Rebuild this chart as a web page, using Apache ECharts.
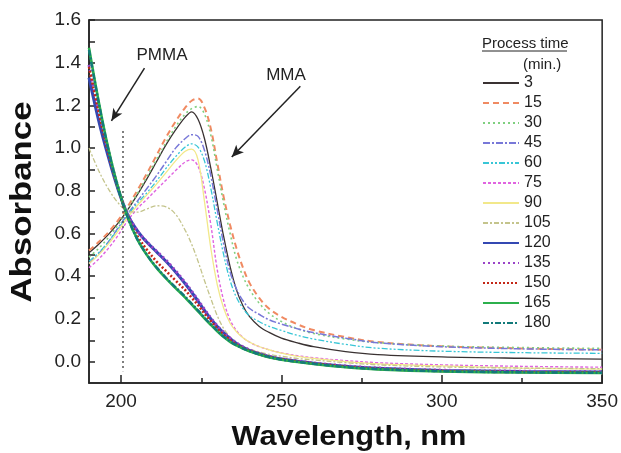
<!DOCTYPE html>
<html>
<head>
<meta charset="utf-8">
<script src="https://cdn.jsdelivr.net/npm/echarts@6/dist/echarts.min.js"></script>
<style>html,body{margin:0;padding:0;background:#fff;}#c{width:621px;height:453px;}</style>
</head>
<body>
<div id="c"></div>
<script>
// Wavelength grid (nm)
var wavelengths = [190,193,196,199,202,205,208,211,214,217,220,222,224,226,228,230,232,234,236,238,240,243,246,250,255,260,270,280,300,325,350];
// Process time labels (min.)
var processTimes = ['3','15','30','45','60','75','90','105','120','135','150','165','180'];
// Absorbance values per process time
var abs3   = [0.51,0.55,0.595,0.648,0.71,0.78,0.855,0.935,1.015,1.085,1.145,1.17,1.135,1.045,0.905,0.745,0.585,0.445,0.335,0.262,0.212,0.166,0.138,0.11,0.088,0.07,0.047,0.033,0.022,0.016,0.012];
var abs15  = [0.52,0.56,0.605,0.66,0.725,0.80,0.88,0.965,1.05,1.125,1.19,1.222,1.232,1.19,1.09,0.93,0.77,0.64,0.53,0.44,0.37,0.30,0.25,0.21,0.175,0.148,0.115,0.092,0.072,0.062,0.056];
var abs30  = [0.49,0.53,0.58,0.64,0.71,0.785,0.865,0.945,1.025,1.10,1.16,1.185,1.195,1.16,1.06,0.90,0.74,0.60,0.48,0.40,0.34,0.275,0.228,0.188,0.154,0.132,0.106,0.089,0.073,0.066,0.062];
var abs45  = [0.46,0.505,0.56,0.625,0.69,0.75,0.81,0.87,0.935,1.0,1.045,1.063,1.055,0.99,0.87,0.71,0.55,0.42,0.34,0.285,0.25,0.222,0.197,0.176,0.154,0.136,0.11,0.089,0.07,0.06,0.055];
var abs60  = [0.47,0.51,0.56,0.62,0.685,0.74,0.79,0.845,0.905,0.96,1.005,1.02,1.005,0.94,0.81,0.65,0.50,0.38,0.30,0.25,0.215,0.188,0.166,0.146,0.123,0.106,0.081,0.063,0.049,0.042,0.039];
var abs75  = [0.44,0.48,0.53,0.59,0.66,0.715,0.76,0.805,0.85,0.895,0.935,0.945,0.915,0.81,0.64,0.43,0.285,0.195,0.145,0.113,0.092,0.071,0.056,0.041,0.028,0.018,0.005,-0.005,-0.015,-0.022,-0.026];
var abs90  = [0.46,0.50,0.55,0.61,0.675,0.73,0.78,0.83,0.885,0.94,0.985,0.995,0.945,0.75,0.53,0.36,0.25,0.18,0.14,0.112,0.092,0.071,0.056,0.04,0.025,0.015,0.0,-0.01,-0.02,-0.03,-0.035];
var abs105 = [1.0,0.895,0.81,0.745,0.705,0.70,0.715,0.73,0.725,0.69,0.615,0.55,0.47,0.38,0.295,0.215,0.155,0.115,0.088,0.072,0.06,0.046,0.035,0.025,0.015,0.008,-0.005,-0.015,-0.025,-0.03,-0.033];
var abs120 = [1.33,1.13,0.96,0.81,0.69,0.615,0.56,0.515,0.47,0.42,0.365,0.325,0.283,0.24,0.20,0.165,0.135,0.108,0.085,0.067,0.053,0.037,0.024,0.012,0.002,-0.007,-0.021,-0.031,-0.041,-0.046,-0.048];
var abs135 = [1.39,1.18,0.99,0.82,0.69,0.615,0.562,0.518,0.475,0.425,0.37,0.33,0.288,0.245,0.204,0.168,0.137,0.11,0.087,0.069,0.055,0.038,0.025,0.013,0.003,-0.006,-0.02,-0.03,-0.04,-0.045,-0.047];
var abs150 = [1.38,1.17,0.98,0.815,0.68,0.59,0.525,0.47,0.425,0.38,0.335,0.30,0.265,0.225,0.19,0.155,0.126,0.101,0.08,0.064,0.051,0.036,0.023,0.011,0.0,-0.009,-0.024,-0.034,-0.044,-0.049,-0.051];
var abs165 = [1.47,1.22,1.0,0.82,0.68,0.575,0.50,0.44,0.39,0.345,0.30,0.268,0.236,0.203,0.172,0.142,0.115,0.093,0.076,0.061,0.049,0.034,0.021,0.009,-0.002,-0.011,-0.026,-0.036,-0.046,-0.051,-0.053];
var abs180 = [1.46,1.215,0.995,0.815,0.678,0.575,0.502,0.443,0.393,0.348,0.304,0.272,0.24,0.206,0.175,0.145,0.117,0.095,0.077,0.062,0.05,0.035,0.022,0.01,-0.001,-0.01,-0.025,-0.035,-0.045,-0.05,-0.052];
// Axis tick values
var xLabelValues = [200,250,300,350];
var xMinorTicks = [225,275,325];
var yLabelValues = [0,0.2,0.4,0.6,0.8,1.0,1.2,1.4,1.6];
var yTickValues = [0,0.1,0.2,0.3,0.4,0.5,0.6,0.7,0.8,0.9,1.0,1.1,1.2,1.3,1.4,1.5,1.6];

var allAbs = [abs3,abs15,abs30,abs45,abs60,abs75,abs90,abs105,abs120,abs135,abs150,abs165,abs180];
var styles = [
  {c:'#3a3232', w:1.3, t:'solid'},
  {c:'#f08a62', w:2, t:[6,4]},
  {c:'#80d080', w:1.6, t:[2,3]},
  {c:'#7878d8', w:1.5, t:[7,2,2,2]},
  {c:'#38c6d6', w:1.3, t:[6,2,2,2,2,2]},
  {c:'#e064e0', w:1.4, t:[3,2]},
  {c:'#f2e88a', w:1.3, t:'solid'},
  {c:'#c4c48c', w:1.3, t:[5,2,2,2]},
  {c:'#3448b2', w:3, t:'solid'},
  {c:'#9a44c8', w:3, t:[2,3]},
  {c:'#c42818', w:2.6, t:[2,2]},
  {c:'#2cb04c', w:2.6, t:'solid'},
  {c:'#127a7a', w:2.4, t:[6,2,2,2]}
];

var FONT = 'Liberation Sans, Arial, Helvetica, sans-serif';
var series = allAbs.map(function(arr, i){
  return {
    name: processTimes[i],
    type: 'line',
    symbol: 'none',
    smooth: 0.35,
    data: wavelengths.map(function(w, k){ return [w, arr[k]]; }),
    lineStyle: {color: styles[i].c, width: styles[i].w, type: styles[i].t},
    itemStyle: {color: styles[i].c},
    z: 2
  };
});
// annotations (arrows + dotted line) attached to first series, in data coordinates
series[0].markLine = {
  silent: true,
  animation: false,
  symbolSize: [8, 12],
  label: {show: false},
  data: [
    [{coord:[207.3, 1.375], symbol:'none', lineStyle:{color:'#222', width:1.5, type:'solid'}},
     {coord:[197.0, 1.128], symbol:'arrow'}],
    [{coord:[255.9, 1.29], symbol:'none', lineStyle:{color:'#222', width:1.5, type:'solid'}},
     {coord:[234.5, 0.958], symbol:'arrow'}],
    [{coord:[200.5, 1.08], symbol:'none', lineStyle:{color:'#555', width:1.5, type:[2,3]}},
     {coord:[200.5, -0.045], symbol:'none'}]
  ]
};

var chart = echarts.init(document.getElementById('c'), null, {renderer:'canvas'});
chart.setOption({
  animation: false,
  backgroundColor: '#fff',
  textStyle: {fontFamily: FONT},
  grid: {left: 89, right: 14, top: 20, bottom: 70, show: true, borderColor: '#222', borderWidth: 1.5, backgroundColor: 'transparent'},
  legend: {
    orient: 'vertical', left: 482, top: 75, padding: 0,
    itemWidth: 36, itemHeight: 12, itemGap: 4,
    selectedMode: false,
    data: processTimes,
    itemStyle: {opacity: 0, color: 'rgba(0,0,0,0)', borderWidth: 0},
    textStyle: {fontSize: 16, color: '#222', lineHeight: 16, fontFamily: FONT}
  },
  xAxis: [{
    type: 'value', min: 190, max: 350,
    axisLine: {show: true, onZero: false, lineStyle: {color: '#222', width: 1.5}},
    axisTick: {show: true, inside: true, length: 8, customValues: xLabelValues, lineStyle: {color:'#222', width: 1.5}},
    axisLabel: {customValues: xLabelValues, fontSize: 19, color: '#222', margin: 9, fontFamily: FONT},
    splitLine: {show: false}
  },{
    type: 'value', min: 190, max: 350, gridIndex: 0, position: 'bottom',
    axisLine: {show: false, onZero: false},
    axisTick: {show: true, inside: true, length: 5, customValues: xMinorTicks, lineStyle: {color:'#222', width: 1.5}},
    axisLabel: {show: false},
    splitLine: {show: false}
  }],
  yAxis: {
    type: 'value', min: -0.1, max: 1.6,
    axisLine: {show: true, onZero: false, lineStyle: {color: '#222', width: 1.5}},
    axisTick: {show: true, inside: true, length: 6, customValues: yTickValues, lineStyle: {color:'#222', width: 1.5}},
    axisLabel: {customValues: yLabelValues, fontSize: 19, color: '#222', margin: 8, fontFamily: FONT,
      formatter: function(v){ return v.toFixed(1); }},
    splitLine: {show: false}
  },
  graphic: [
    {type:'text', x: 23, y: 202, rotation: Math.PI/2, scaleX: 1.2, style:{text:'Absorbance', font:'bold 29px ' + FONT, fill:'#111', align:'center', verticalAlign:'middle'}},
    {type:'text', x: 349, y: 437, scaleX: 1.1, style:{text:'Wavelength, nm', font:'bold 28px ' + FONT, fill:'#111', align:'center', verticalAlign:'middle'}},
    {type:'text', x: 482, y: 44, style:{text:'Process time', font:'15px ' + FONT, fill:'#222', align:'left', verticalAlign:'middle'}},
    {type:'line', shape:{x1:482, y1:51, x2:567, y2:51}, style:{stroke:'#222', lineWidth:1}},
    {type:'text', x: 523, y: 65, style:{text:'(min.)', font:'15px ' + FONT, fill:'#222', align:'left', verticalAlign:'middle'}},
    {type:'text', x: 162, y: 55, style:{text:'PMMA', font:'17px ' + FONT, fill:'#222', align:'center', verticalAlign:'middle'}},
    {type:'text', x: 286, y: 75, style:{text:'MMA', font:'17px ' + FONT, fill:'#222', align:'center', verticalAlign:'middle'}}
  ],
  series: series
});
</script>
</body>
</html>
